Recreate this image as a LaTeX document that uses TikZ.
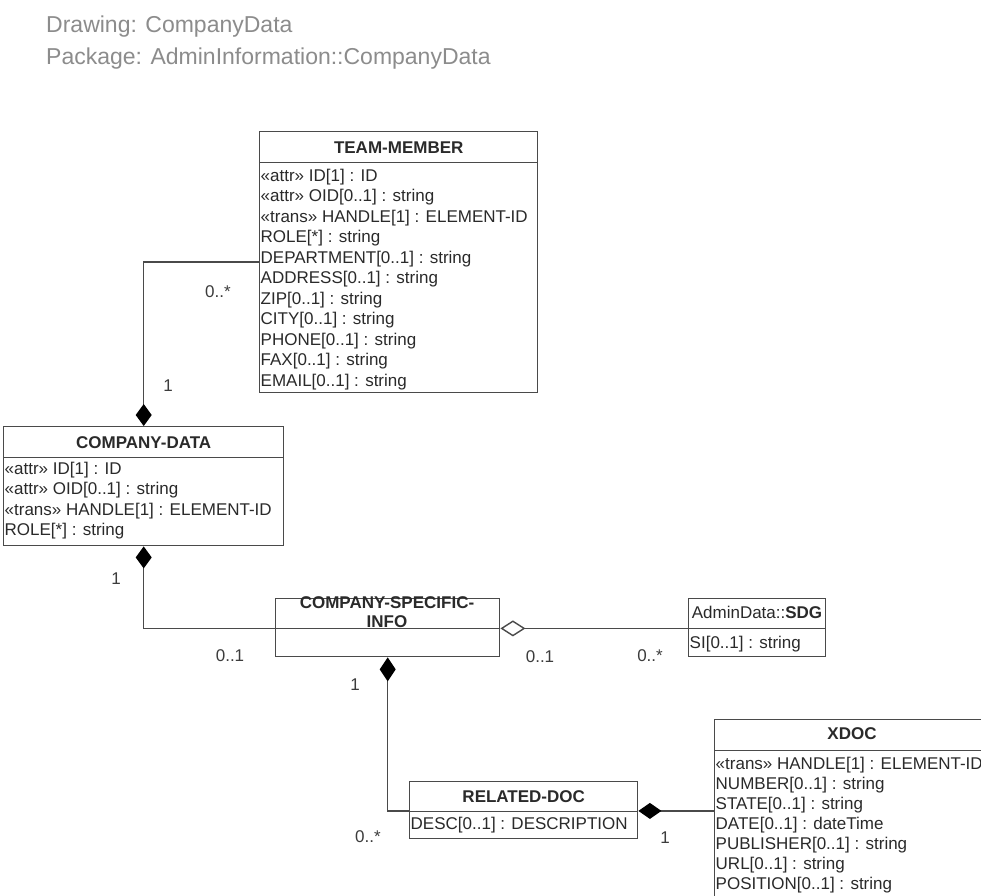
\documentclass[tikz,border=0pt]{standalone}
\usepackage{fontspec}
\setmainfont{Liberation Sans}
\usetikzlibrary{arrows.meta}
\definecolor{hdr}{HTML}{8C8C8C}
\definecolor{ln}{HTML}{4A4A4A}
\definecolor{txt}{HTML}{2A2A2A}
\definecolor{mlt}{HTML}{3C3C3C}
\begin{document}
\begin{tikzpicture}[x=1pt,y=-1pt,
 box/.style={draw=ln, line width=1.4pt, rectangle, inner sep=0pt, anchor=north west},
 title/.style={font=\fontsize{17}{19}\selectfont\bfseries, text=txt, inner sep=0pt},
 attr/.style={font=\fontsize{17}{20}\selectfont, text=txt, inner sep=0pt, anchor=base west},
 mult/.style={font=\fontsize{17}{20}\selectfont, text=mlt, inner sep=0pt},
 conn/.style={draw=ln, line width=1.4pt},
 hdrtext/.style={font=\fontsize{23}{27}\selectfont, text=hdr, anchor=base west, inner sep=0pt}]
\useasboundingbox (0,0) rectangle (981,895);
\clip (0,0) rectangle (981,895);
\fill[white] (0,0) rectangle (981,895);

% drawing header
\node[hdrtext] (d1) at (46,32) {Drawing: CompanyData};
\node[hdrtext] (d2) at (46,64) {Package: AdminInformation::CompanyData};

% TEAM-MEMBER
\node[box, minimum width=278pt, minimum height=230pt] (tmb) at (259,162) {};
\node[box, minimum width=278pt, minimum height=31pt] (tmh) at (259,131) {};
\node[title] (tmt) at (tmh.center) {TEAM-MEMBER};
\foreach \t [count=\i] in {{«attr» ID[1] : ID},{«attr» OID[0..1] : string},{«trans» HANDLE[1] : ELEMENT-ID},{ROLE[*] : string},{DEPARTMENT[0..1] : string},{ADDRESS[0..1] : string},{ZIP[0..1] : string},{CITY[0..1] : string},{PHONE[0..1] : string},{FAX[0..1] : string},{EMAIL[0..1] : string}}
  \node[attr] (tma\i) at (260.5,{181+20.5*(\i-1)}) {\t};

% COMPANY-DATA
\node[box, minimum width=280pt, minimum height=88pt] (cdb) at (3,457) {};
\node[box, minimum width=280pt, minimum height=31pt] (cdh) at (3,426) {};
\node[title] (cdt) at (cdh.center) {COMPANY-DATA};
\foreach \t [count=\i] in {{«attr» ID[1] : ID},{«attr» OID[0..1] : string},{«trans» HANDLE[1] : ELEMENT-ID},{ROLE[*] : string}}
  \node[attr] (cda\i) at (4.5,{474+20.5*(\i-1)}) {\t};

% COMPANY-SPECIFIC-INFO
\node[box, minimum width=224pt, minimum height=28pt] (csib) at (275,628) {};
\node[box, minimum width=224pt, minimum height=30pt] (csih) at (275,598) {};
\node[title, align=center] (csit) at (387,612) {COMPANY-SPECIFIC-\\INFO};

% AdminData::SDG
\node[box, minimum width=137pt, minimum height=28pt] (sdgb) at (688,628) {};
\node[box, minimum width=137pt, minimum height=30pt] (sdgh) at (688,598) {};
\node[attr, anchor=center] (sdgt) at (757,612) {AdminData::\textbf{SDG}};
\node[attr] (sdga1) at (689.5,648) {SI[0..1] : string};

% RELATED-DOC
\node[box, minimum width=228pt, minimum height=27pt] (rdb) at (409,811) {};
\node[box, minimum width=228pt, minimum height=30pt] (rdh) at (409,781) {};
\node[title] (rdt) at (rdh.center) {RELATED-DOC};
\node[attr] (rda1) at (410.5,829) {DESC[0..1] : DESCRIPTION};

% XDOC
\node[box, minimum width=276pt, minimum height=170pt] (xdb) at (714,750) {};
\node[box, minimum width=276pt, minimum height=31pt] (xdh) at (714,719) {};
\node[title] (xdt) at (852,734) {XDOC};
\foreach \t [count=\i] in {{«trans» HANDLE[1] : ELEMENT-ID},{NUMBER[0..1] : string},{STATE[0..1] : string},{DATE[0..1] : dateTime},{PUBLISHER[0..1] : string},{URL[0..1] : string},{POSITION[0..1] : string}}
  \node[attr] (xda\i) at (715.5,{769+20*(\i-1)}) {\t};

% connectors
\draw[conn, -{Diamond[length=22pt,width=16pt,fill=black,color=black]}]
  ([yshift=-100pt]tmb.north west) -| (cdh.north);
\draw[conn, {Diamond[length=22pt,width=16pt,fill=black,color=black]}-]
  (cdb.south) |- ([yshift=1pt]csih.south west);
\draw[conn, {Diamond[open,length=25pt,width=16pt,color=ln]}-]
  ([yshift=1pt]csih.south east) -- ([yshift=1pt]csih.south east -| sdgb.west);
\draw[conn, {Diamond[length=24pt,width=16pt,fill=black,color=black]}-]
  (csib.south) |- ([yshift=1.5pt]rdh.south west);
\draw[conn, {Diamond[length=23pt,width=16pt,fill=black,color=black]}-]
  ([yshift=1.5pt]rdh.south east) -- ([yshift=1.5pt]rdh.south east -| xdb.west);

% multiplicities
\node[mult] (m1) at (218,292) {0..*};
\node[mult] (m2) at (168,386) {1};
\node[mult] (m3) at (116,579) {1};
\node[mult] (m4) at (230,656) {0..1};
\node[mult] (m5) at (540,657) {0..1};
\node[mult] (m6) at (650,656) {0..*};
\node[mult] (m7) at (355,685) {1};
\node[mult] (m8) at (368,837) {0..*};
\node[mult] (m9) at (665,838) {1};
\end{tikzpicture}
\end{document}
